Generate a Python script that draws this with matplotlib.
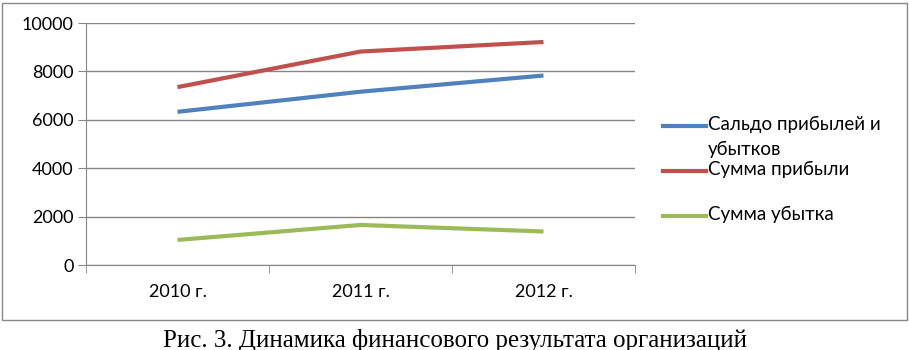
import matplotlib
matplotlib.use('Agg')
import matplotlib.pyplot as plt
from matplotlib.lines import Line2D
from matplotlib.patches import Rectangle

# данные
years = ['2010 г.', '2011 г.', '2012 г.']
saldo = [6330, 7160, 7830]
profit = [7350, 8820, 9215]
loss = [1035, 1655, 1385]
names = ['Сальдо прибылей и\nубытков', 'Сумма прибыли', 'Сумма убытка']
colors = ['#4F81BD', '#C0504D', '#9BBB59']
caption = 'Рис. 3. Динамика финансового результата организаций'

W, H = 909, 350
fig = plt.figure(figsize=(W / 100, H / 100), dpi=100)

# рамка диаграммы
fig.add_artist(Rectangle((2 / W, 30 / H), 905 / W, 317 / H, transform=fig.transFigure,
                         fill=False, edgecolor='#878787', lw=1))

ax = fig.add_axes([86 / W, 85 / H, 549 / W, 242 / H])
x = list(range(len(years)))
for vals, c in zip([saldo, profit, loss], colors):
    ax.plot(x, vals, color=c, lw=3, solid_capstyle='butt')

ax.set_xlim(-0.5, len(years) - 0.5)
ax.set_ylim(0, 10000)
ax.set_yticks(range(0, 10001, 2000))
ax.set_xticks(x)
ax.set_xticklabels(years)
ax.set_xticks([i - 0.5 for i in range(len(years) + 1)], minor=True)
ax.tick_params(axis='x', which='major', length=0, pad=14, labelsize=13)
ax.tick_params(axis='x', which='minor', length=6, color='#868686', direction='out')
ax.tick_params(axis='y', length=6, color='#868686', labelsize=13, pad=3)
for lab in ax.get_xticklabels() + ax.get_yticklabels():
    lab.set_fontfamily('Lato')
ax.grid(axis='y', color='#868686', lw=1)
ax.set_axisbelow(True)
for s in ['top', 'right']:
    ax.spines[s].set_visible(False)
ax.spines['left'].set_color('#868686')
ax.spines['bottom'].set_color('#868686')

# легенда
leg_y = [126, 171, 216]
for name, c, yy in zip(names, colors, leg_y):
    fig.add_artist(Line2D([663 / W, 706 / W], [1 - yy / H] * 2, transform=fig.transFigure,
                          color=c, lw=3))
    fig.text(708 / W, 1 - (yy - 10) / H, name, ha='left', va='top', fontsize=13.5,
             family='Lato', linespacing=1.55)

fig.text(455 / W, 1 - 340 / H, caption, ha='center', va='center', fontsize=18,
         family='Liberation Serif')

fig.savefig('out.png', dpi=100)
